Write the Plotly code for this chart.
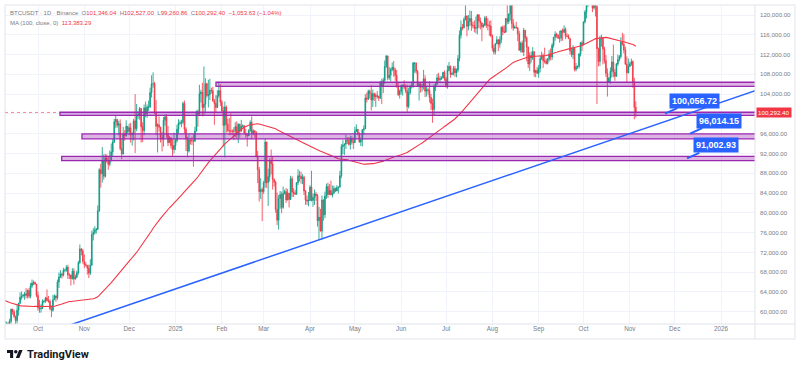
import pandas as pd
import plotly.graph_objects as go

# ---------------- data (prices in thousands of USDT) ----------------
# 100 daily closes before the visible window (2024-05-29 .. 2024-09-05), used to warm up the MA(100)
PRE_CLOSES = [
    67.6, 68.4, 67.5,
    67.7, 67.8, 68.8, 70.6, 71.1, 70.8, 69.4, 69.3, 69.6, 69.5, 67.3, 68.2, 66.8, 66.0, 66.2,
    66.7, 66.5, 65.2, 64.9, 64.8, 64.1, 64.3, 63.2, 60.3, 61.8, 60.9, 61.6, 60.3, 60.9, 62.7,
    62.9, 62.1, 60.2, 57.0, 56.7, 58.2, 55.9, 56.7, 58.0, 57.7, 57.3, 57.9, 59.2, 60.8, 64.7,
    65.0, 64.1, 63.9, 66.7, 67.2, 68.2, 67.6, 65.9, 65.4, 65.8, 67.9, 67.8, 68.3, 66.8, 66.2, 64.6,
    65.4, 61.5, 60.7, 58.1, 54.0, 56.0, 55.1, 61.7, 60.8, 60.9, 58.7, 59.4, 60.6, 58.7, 57.5,
    58.9, 59.5, 58.4, 59.5, 59.0, 61.2, 60.4, 64.0, 64.2, 64.2, 62.9, 59.4, 59.0, 59.4, 59.1, 58.9,
    57.3, 59.1, 57.5, 58.0, 56.2,
]

# daily candles (open, high, low, close)
SEP24 = [  # from 2024-09-06
    (56.2, 56.9, 52.6, 53.9), (53.9, 54.9, 53.7, 54.2), (54.2, 55.3, 53.6, 54.9), (54.9, 58.1, 54.6, 57.0),
    (57.0, 58.0, 56.4, 57.6), (57.6, 57.9, 55.5, 57.3), (57.3, 58.6, 57.3, 58.1), (58.1, 60.6, 57.6, 60.5),
    (60.5, 60.6, 59.4, 60.0), (60.0, 60.4, 58.7, 59.1), (59.1, 59.2, 57.5, 58.2), (58.2, 61.3, 57.6, 60.3),
    (60.3, 61.8, 59.2, 61.7), (61.7, 63.9, 61.6, 62.9), (62.9, 64.1, 62.4, 63.2), (63.2, 63.6, 62.8, 63.3),
    (63.3, 64.0, 62.4, 63.6), (63.6, 64.8, 62.7, 63.3), (63.3, 64.5, 62.7, 64.3), (64.3, 64.8, 62.7, 63.1),
    (63.1, 65.8, 62.7, 65.2), (65.2, 66.5, 64.8, 65.8), (65.8, 66.3, 65.4, 65.9), (65.9, 66.1, 65.4, 65.6),
    (65.6, 65.6, 62.9, 63.3),
]
OCT24 = [
    (63.3, 64.1, 60.2, 60.8), (60.8, 62.4, 59.8, 60.6), (60.6, 61.5, 59.8, 60.7), (60.7, 62.5, 60.5, 62.1),
    (62.1, 62.4, 61.7, 62.1), (62.1, 63.0, 61.8, 62.8), (62.8, 64.5, 62.1, 62.2), (62.2, 63.2, 61.8, 62.1),
    (62.1, 62.5, 60.3, 60.6), (60.6, 61.3, 58.9, 60.3), (60.3, 63.4, 60.0, 62.4), (62.4, 63.5, 62.4, 63.2),
    (63.2, 63.3, 62.0, 62.8), (62.8, 66.5, 62.4, 66.0), (66.0, 67.9, 64.8, 67.0), (67.0, 68.4, 66.8, 67.6),
    (67.6, 67.9, 66.7, 67.4), (67.4, 68.9, 67.1, 68.4), (68.4, 68.7, 68.0, 68.4), (68.4, 69.4, 68.1, 69.0),
    (69.0, 69.5, 66.6, 67.4), (67.4, 67.8, 66.6, 67.4), (67.4, 67.5, 65.3, 66.7), (66.7, 68.8, 66.5, 68.2),
    (68.2, 68.8, 65.5, 66.6), (66.6, 67.5, 66.5, 67.0), (67.0, 68.3, 66.8, 67.9), (67.9, 70.3, 67.5, 69.9),
    (69.9, 73.6, 69.7, 72.7), (72.7, 72.9, 71.4, 72.3), (72.3, 72.7, 69.7, 70.2),
]
NOV24 = [
    (70.2, 71.6, 68.8, 69.5), (69.5, 70.0, 69.1, 69.4), (69.4, 69.4, 67.5, 68.8), (68.8, 69.5, 66.8, 67.8),
    (67.8, 70.6, 67.4, 69.4), (69.4, 76.4, 69.3, 75.6), (75.6, 76.9, 74.4, 76.0), (76.0, 77.3, 75.6, 76.5),
    (76.5, 76.9, 75.8, 76.7), (76.7, 81.5, 76.5, 80.4), (80.4, 89.0, 80.2, 88.7), (88.7, 89.9, 85.1, 87.9),
    (87.9, 93.3, 86.1, 90.5), (90.5, 91.8, 86.7, 87.4), (87.4, 91.9, 87.1, 91.1), (91.1, 91.8, 90.1, 90.6),
    (90.6, 91.5, 88.7, 89.8), (89.8, 92.6, 89.4, 90.5), (90.5, 94.0, 90.4, 92.3), (92.3, 94.9, 91.5, 94.3),
    (94.3, 99.0, 94.1, 98.4), (98.4, 99.8, 97.2, 98.9), (98.9, 98.9, 97.2, 97.7), (97.7, 98.6, 95.7, 98.0),
    (98.0, 98.9, 92.6, 93.0), (93.0, 94.9, 90.8, 91.9), (91.9, 97.4, 91.8, 95.9), (95.9, 96.7, 94.6, 95.6),
    (95.6, 98.7, 95.4, 97.5), (97.5, 97.5, 96.0, 96.4),
]
DEC24 = [
    (96.4, 98.0, 95.7, 97.2), (97.2, 98.2, 94.2, 95.8), (95.8, 96.3, 93.6, 96.0), (96.0, 99.0, 94.6, 98.6),
    (98.6, 104.0, 92.1, 97.0), (97.0, 102.0, 96.5, 99.8), (99.8, 100.5, 99.0, 99.8), (99.8, 101.4, 98.8, 101.1),
    (101.1, 101.2, 94.2, 97.4), (97.4, 98.3, 94.3, 96.6), (96.6, 101.9, 95.7, 101.2), (101.2, 102.5, 99.3, 100.0),
    (100.0, 101.9, 99.2, 101.4), (101.4, 102.7, 100.6, 101.4), (101.4, 105.3, 101.2, 104.3), (104.3, 107.8, 103.3, 106.1),
    (106.1, 108.4, 105.3, 106.1), (106.1, 106.5, 100.0, 100.2), (100.2, 102.8, 95.7, 97.5), (97.5, 98.1, 92.2, 97.8),
    (97.8, 99.5, 96.4, 97.3), (97.3, 97.4, 94.2, 95.2), (95.2, 96.4, 92.4, 94.9), (94.9, 99.4, 93.4, 98.7),
    (98.7, 99.9, 97.6, 99.4), (99.4, 99.9, 95.2, 95.8), (95.8, 97.5, 93.5, 94.2), (94.2, 95.5, 94.1, 95.2),
    (95.2, 95.2, 93.0, 93.6), (93.6, 94.9, 91.3, 92.8), (92.8, 96.2, 92.0, 93.6),
]
JAN25 = [
    (93.6, 95.0, 92.7, 94.6), (94.6, 97.8, 94.2, 96.9), (96.9, 98.9, 96.0, 98.1), (98.1, 98.7, 97.8, 98.2),
    (98.2, 98.8, 97.3, 98.3), (98.3, 102.5, 97.9, 102.1), (102.1, 102.7, 96.1, 96.9), (96.9, 97.3, 92.5, 95.0),
    (95.0, 95.4, 91.2, 92.5), (92.5, 95.8, 92.2, 94.7), (94.7, 95.0, 93.8, 94.6), (94.6, 95.4, 93.7, 94.5),
    (94.5, 95.9, 89.3, 94.5), (94.5, 97.4, 94.3, 96.5), (96.5, 100.7, 96.5, 100.5), (100.5, 100.9, 97.4, 99.9),
    (99.9, 105.9, 99.9, 104.1), (104.1, 104.9, 102.3, 104.4), (104.4, 106.3, 99.5, 101.3), (101.3, 109.6, 99.6, 102.0),
    (102.0, 107.2, 100.1, 106.1), (106.1, 106.3, 103.3, 103.7), (103.7, 106.9, 101.3, 103.9), (103.9, 107.1, 102.8, 104.8),
    (104.8, 105.3, 104.1, 104.7), (104.7, 105.5, 102.5, 102.6), (102.6, 103.0, 97.8, 102.1), (102.1, 103.8, 100.3, 101.3),
    (101.3, 104.8, 101.3, 103.7), (103.7, 106.5, 103.3, 104.7), (104.7, 106.0, 101.6, 102.4),
]
FEB25 = [
    (102.4, 102.8, 100.3, 100.6), (100.6, 101.5, 93.4, 97.7), (97.7, 102.5, 91.2, 101.4), (101.4, 101.7, 96.2, 97.9),
    (97.9, 99.0, 96.3, 96.6), (96.6, 99.2, 95.7, 96.6), (96.6, 100.1, 95.7, 96.5), (96.5, 96.9, 95.7, 96.5),
    (96.5, 97.3, 94.7, 96.5), (96.5, 98.3, 95.3, 97.4), (97.4, 98.5, 94.9, 95.8), (95.8, 98.1, 94.1, 97.9),
    (97.9, 98.0, 95.2, 96.6), (96.6, 98.8, 96.3, 97.5), (97.5, 97.9, 97.2, 97.6), (97.6, 97.7, 96.0, 96.1),
    (96.1, 97.0, 95.2, 95.8), (95.8, 96.0, 93.4, 95.6), (95.6, 96.9, 95.5, 96.6), (96.6, 98.7, 96.4, 98.3),
    (98.3, 99.5, 94.9, 96.1), (96.1, 96.9, 95.7, 96.6), (96.6, 96.7, 95.2, 96.3), (96.3, 96.5, 91.2, 91.4),
    (91.4, 92.5, 86.0, 88.7), (88.7, 89.3, 82.3, 84.3), (84.3, 87.0, 82.8, 84.7), (84.7, 85.1, 78.3, 84.3),
]
MAR25 = [
    (84.3, 86.5, 83.8, 86.1), (86.1, 95.0, 85.1, 94.3), (94.3, 94.4, 85.0, 86.1), (86.1, 88.9, 81.4, 87.3),
    (87.3, 91.0, 86.3, 90.6), (90.6, 92.8, 87.8, 89.9), (89.9, 91.3, 84.7, 86.8), (86.8, 86.9, 85.3, 86.2),
    (86.2, 86.5, 80.0, 80.7), (80.7, 84.1, 77.5, 78.5), (78.5, 83.6, 76.6, 82.9), (82.9, 84.4, 80.8, 83.7),
    (83.7, 84.3, 79.9, 81.1), (81.1, 85.3, 80.8, 83.9), (83.9, 84.7, 83.7, 84.3), (84.3, 85.0, 82.0, 82.6),
    (82.6, 84.8, 82.5, 84.0), (84.0, 84.0, 81.1, 82.7), (82.7, 87.5, 82.6, 86.9), (86.9, 87.4, 83.2, 84.2),
    (84.2, 85.0, 83.2, 84.0), (84.0, 84.6, 83.6, 83.8), (83.8, 86.2, 83.6, 86.1), (86.1, 88.8, 85.6, 87.5),
    (87.5, 88.5, 86.3, 87.4), (87.4, 88.3, 85.9, 86.9), (86.9, 87.8, 85.8, 87.2), (87.2, 87.5, 83.6, 84.4),
    (84.4, 84.6, 81.6, 82.6), (82.6, 83.5, 81.6, 82.4), (82.4, 84.2, 81.3, 82.5),
]
APR25 = [
    (82.5, 85.6, 82.4, 85.2), (85.2, 88.5, 82.3, 82.5), (82.5, 83.9, 81.2, 83.1), (83.1, 84.7, 81.6, 83.8),
    (83.8, 84.2, 82.4, 83.5), (83.5, 83.8, 77.2, 78.4), (78.4, 81.2, 74.5, 79.1), (79.1, 80.8, 76.2, 76.3),
    (76.3, 83.5, 74.6, 82.6), (82.6, 82.7, 78.4, 79.6), (79.6, 84.3, 78.9, 83.4), (83.4, 85.9, 82.8, 85.3),
    (85.3, 86.1, 83.0, 83.7), (83.7, 85.8, 83.7, 84.5), (84.5, 86.5, 83.6, 83.6), (83.6, 85.5, 83.1, 84.0),
    (84.0, 85.5, 83.8, 84.9), (84.9, 85.1, 84.2, 84.4), (84.4, 85.6, 84.4, 85.1), (85.1, 85.3, 83.9, 85.2),
    (85.2, 88.5, 85.1, 87.5), (87.5, 93.9, 87.0, 93.4), (93.4, 94.7, 91.9, 93.7), (93.7, 94.0, 91.7, 93.9),
    (93.9, 95.8, 92.9, 94.7), (94.7, 95.3, 93.9, 94.6), (94.6, 95.3, 93.6, 93.8), (93.8, 95.6, 92.8, 95.0),
    (95.0, 95.5, 93.8, 94.3), (94.3, 95.2, 92.9, 94.2),
]
MAY25 = [
    (94.2, 97.4, 94.1, 96.5), (96.5, 97.9, 96.3, 96.9), (96.9, 96.9, 95.8, 95.9), (95.9, 96.3, 94.2, 94.3),
    (94.3, 95.2, 93.5, 94.7), (94.7, 96.9, 93.4, 96.8), (96.8, 97.7, 95.8, 97.0), (97.0, 104.0, 96.9, 103.2),
    (103.2, 104.3, 102.3, 103.0), (103.0, 104.9, 102.8, 104.6), (104.6, 104.9, 103.1, 104.1), (104.1, 105.8, 100.7, 102.8),
    (102.8, 104.9, 101.4, 104.1), (104.1, 104.3, 102.6, 103.5), (103.5, 104.2, 101.4, 103.7), (103.7, 104.6, 103.1, 103.5),
    (103.5, 103.7, 102.6, 103.2), (103.2, 106.7, 103.0, 106.4), (106.4, 107.1, 102.0, 105.6), (105.6, 107.3, 104.2, 106.8),
    (106.8, 110.8, 106.1, 109.6), (109.6, 111.9, 109.3, 111.7), (111.7, 111.8, 106.8, 107.3), (107.3, 109.5, 106.9, 107.8),
    (107.8, 109.3, 106.6, 109.0), (109.0, 110.4, 108.6, 109.4), (109.4, 110.7, 107.5, 108.9), (108.9, 109.3, 106.7, 107.8),
    (107.8, 108.9, 105.3, 105.6), (105.6, 106.3, 103.6, 103.9), (103.9, 104.9, 103.1, 104.6),
]
JUN25 = [
    (104.6, 105.9, 103.9, 105.7), (105.7, 105.9, 103.7, 105.8), (105.8, 106.8, 105.0, 105.4), (105.4, 106.0, 104.2, 104.7),
    (104.7, 105.9, 100.4, 101.5), (101.5, 105.3, 101.1, 104.3), (104.3, 105.9, 103.9, 105.6), (105.6, 106.5, 105.1, 105.7),
    (105.7, 110.5, 105.3, 110.3), (110.3, 110.4, 108.3, 110.3), (110.3, 110.4, 108.1, 108.6), (108.6, 108.9, 105.7, 105.7),
    (105.7, 106.2, 102.7, 106.1), (106.1, 106.2, 104.3, 105.4), (105.4, 106.1, 104.5, 105.6), (105.6, 108.9, 104.9, 107.1),
    (107.1, 107.8, 103.4, 104.6), (104.6, 105.5, 103.5, 104.9), (104.9, 105.3, 103.9, 104.7), (104.7, 106.6, 102.3, 103.3),
    (103.3, 104.0, 100.8, 102.1), (102.1, 103.1, 98.2, 100.9), (100.9, 106.0, 99.6, 105.4), (105.4, 106.3, 104.6, 106.0),
    (106.0, 108.1, 105.9, 107.3), (107.3, 108.3, 106.6, 106.9), (106.9, 107.7, 106.4, 107.1), (107.1, 107.6, 106.9, 107.3),
    (107.3, 108.5, 107.2, 108.4), (108.4, 108.8, 106.7, 107.1),
]
JUL25 = [
    (107.1, 107.5, 105.3, 105.7), (105.7, 109.8, 105.1, 108.8), (108.8, 110.5, 108.6, 109.6), (109.6, 109.8, 107.3, 108.0),
    (108.0, 108.4, 107.8, 108.2), (108.2, 109.7, 107.8, 109.2), (109.2, 109.7, 107.5, 108.3), (108.3, 109.2, 107.4, 108.9),
    (108.9, 111.9, 108.4, 111.2), (111.2, 116.9, 110.6, 115.9), (115.9, 118.9, 115.2, 117.5), (117.5, 118.2, 116.9, 117.4),
    (117.4, 119.5, 117.3, 119.1), (119.1, 123.2, 118.9, 119.8), (119.8, 119.9, 115.7, 117.7), (117.7, 120.0, 116.9, 118.7),
    (118.7, 120.9, 117.8, 119.3), (119.3, 120.8, 116.8, 117.9), (117.9, 118.6, 117.3, 117.9), (117.9, 118.9, 116.5, 117.3),
    (117.3, 119.7, 116.3, 117.4), (117.4, 120.2, 116.1, 120.0), (120.0, 120.2, 117.3, 118.8), (118.8, 119.5, 117.1, 118.4),
    (118.4, 118.5, 114.7, 117.6), (117.6, 118.3, 117.4, 117.9), (117.9, 119.8, 117.8, 119.4), (119.4, 119.8, 117.4, 118.0),
    (118.0, 119.3, 116.9, 117.9), (117.9, 118.8, 115.8, 117.8), (117.8, 118.9, 115.5, 115.8),
]
AUG25 = [
    (115.8, 116.1, 112.7, 113.3), (113.3, 114.0, 112.0, 112.5), (112.5, 114.3, 112.0, 114.2), (114.2, 115.7, 114.1, 115.0),
    (115.0, 115.1, 112.7, 114.1), (114.1, 115.7, 113.4, 115.0), (115.0, 117.7, 114.3, 117.5), (117.5, 117.9, 115.9, 116.6),
    (116.6, 117.9, 116.3, 116.5), (116.5, 119.3, 116.5, 119.3), (119.3, 122.3, 118.1, 118.7), (118.7, 120.3, 118.2, 120.2),
    (120.2, 123.7, 118.9, 123.3), (123.3, 124.5, 117.2, 118.3), (118.3, 119.2, 116.8, 117.4), (117.4, 117.9, 117.2, 117.5),
    (117.5, 118.6, 117.3, 117.4), (117.4, 117.5, 114.7, 116.2), (116.2, 116.8, 112.7, 112.9), (112.9, 114.6, 112.4, 114.3),
    (114.3, 114.8, 112.4, 112.5), (112.5, 117.4, 111.7, 116.9), (116.9, 117.0, 114.6, 115.4), (115.4, 115.7, 110.6, 113.5),
    (113.5, 113.6, 109.3, 110.1), (110.1, 112.4, 108.7, 111.8), (111.8, 112.6, 110.4, 111.3), (111.3, 113.5, 110.9, 112.6),
    (112.6, 112.6, 107.5, 108.4), (108.4, 108.9, 107.4, 108.8), (108.8, 109.5, 108.1, 108.2),
]
SEP25 = [
    (108.2, 109.9, 107.3, 109.2), (109.2, 111.8, 108.4, 111.2), (111.2, 112.6, 110.9, 111.7), (111.7, 112.2, 109.3, 110.7),
    (110.7, 113.4, 110.2, 110.7), (110.7, 111.2, 110.0, 110.2), (110.2, 111.3, 110.0, 111.1), (111.1, 112.9, 110.6, 112.1),
    (112.1, 113.2, 110.8, 111.5), (111.5, 114.3, 110.9, 113.9), (113.9, 115.5, 113.4, 115.5), (115.5, 116.7, 114.8, 116.1),
    (116.1, 116.4, 115.4, 115.9), (115.9, 116.1, 115.2, 115.3), (115.3, 116.8, 114.4, 115.3), (115.3, 117.0, 114.7, 116.8),
    (116.8, 117.3, 114.8, 116.5), (116.5, 117.9, 116.3, 117.1), (117.1, 117.5, 115.1, 115.7), (115.7, 116.3, 115.5, 115.7),
    (115.7, 116.1, 115.2, 115.2), (115.2, 115.4, 112.0, 112.7), (112.7, 113.4, 111.5, 112.0), (112.0, 113.9, 111.1, 113.3),
    (113.3, 113.5, 108.6, 109.0), (109.0, 110.3, 108.6, 109.6), (109.6, 109.8, 109.1, 109.6), (109.6, 112.3, 109.2, 112.1),
    (112.1, 114.5, 111.6, 114.4), (114.4, 114.8, 112.7, 114.0),
]
OCT25 = [
    (114.0, 118.7, 113.9, 118.6), (118.6, 121.0, 118.3, 120.6), (120.6, 123.9, 119.3, 122.2), (122.2, 122.9, 121.6, 122.4),
    (122.4, 125.7, 122.1, 123.5), (123.5, 126.2, 123.1, 124.7), (124.7, 125.1, 120.6, 121.4), (121.4, 124.2, 121.1, 123.3),
    (123.3, 123.8, 119.7, 121.7), (121.7, 122.6, 102.0, 113.2), (113.2, 113.4, 109.6, 110.6), (110.6, 115.8, 109.7, 115.2),
    (115.2, 116.0, 113.6, 115.3), (115.3, 115.4, 110.0, 113.1), (113.1, 113.6, 110.2, 110.8), (110.8, 111.9, 107.5, 108.2),
    (108.2, 109.2, 103.5, 106.4), (106.4, 107.5, 106.3, 107.2), (107.2, 109.4, 106.1, 108.6), (108.6, 111.7, 107.4, 110.5),
    (110.5, 114.0, 107.4, 108.4), (108.4, 109.1, 106.7, 107.6), (107.6, 110.3, 107.5, 110.1), (110.1, 112.0, 109.7, 111.0),
    (111.0, 111.9, 110.6, 111.6), (111.6, 115.5, 111.2, 114.5), (114.5, 116.4, 113.8, 114.1), (114.1, 116.1, 112.2, 112.9),
    (112.9, 113.6, 109.9, 110.1), (110.1, 111.6, 106.3, 108.3), (108.3, 111.2, 108.2, 109.6),
]
NOV25 = [
    (109.6, 110.5, 109.5, 110.1), (110.1, 111.2, 109.7, 110.6), (110.6, 110.8, 105.3, 106.5),
    (106.5, 107.3, 98.9, 101.34604), (101.34604, 102.527, 99.26086, 100.2924),
]

MONTH_STARTS = ["2024-09-06", "2024-10-01", "2024-11-01", "2024-12-01", "2025-01-01", "2025-02-01",
                "2025-03-01", "2025-04-01", "2025-05-01", "2025-06-01", "2025-07-01", "2025-08-01",
                "2025-09-01", "2025-10-01", "2025-11-01"]
MONTH_ROWS = [SEP24, OCT24, NOV24, DEC24, JAN25, FEB25, MAR25, APR25, MAY25, JUN25, JUL25, AUG25,
              SEP25, OCT25, NOV25]

MA_LENGTH = 100
LEGEND_SYMBOL = "BTCUSDT · 1D · Binance"
LEGEND_OHLC = [101346.04, 102527.00, 99260.86, 100292.40]
LEGEND_CHANGE = -1053.63
LEGEND_CHANGE_PCT = -1.04
LEGEND_MA = 113383.29
LAST_PRICE = 100292.40

# horizontal zones drawn on the chart (low, high, start time)
ZONE_LOW = [105580, 99720, 94950, 90570]
ZONE_HIGH = [106400, 100330, 95950, 91430]
ZONE_START = ["2025-01-28 02:00", "2024-10-15 17:00", "2024-10-30 10:00", "2024-10-16 20:00"]

# rising trend line anchors
TREND_TIMES = ["2024-10-20", "2026-02-10"]
TREND_PRICES = [57060, 106476]

# price callouts
CALLOUT_PRICES = [100056.72, 96014.15, 91002.93]
CALLOUT_TIMES = ["2025-11-24 13:00", "2025-12-11 06:30", "2025-12-09 06:00"]

Y_TICKS = list(range(60000, 120001, 4000))
Y_HIDDEN = [100000]  # label covered by the last-price tag
X_TICK_DATES = ["2024-10-01", "2024-11-01", "2024-12-01", "2025-01-01", "2025-02-01", "2025-03-01",
                "2025-04-01", "2025-05-01", "2025-06-01", "2025-07-01", "2025-08-01", "2025-09-01",
                "2025-10-01", "2025-11-01", "2025-12-01", "2026-01-01"]
X_TICK_LABELS = ["Oct", "Nov", "Dec", "2025", "Feb", "Mar", "Apr", "May", "Jun", "Jul", "Aug", "Sep",
                 "Oct", "Nov", "Dec", "2026"]

# ---------------- build ----------------
dates, o, h, l, c = [], [], [], [], []
for start, rows in zip(MONTH_STARTS, MONTH_ROWS):
    ds = pd.date_range(start, periods=len(rows), freq="D")
    for d, (oo, hh, ll, cc) in zip(ds, rows):
        dates.append(d)
        o.append(oo * 1000); h.append(hh * 1000); l.append(ll * 1000); c.append(cc * 1000)

all_close = pd.Series([v * 1000 for v in PRE_CLOSES] + c)
ma = all_close.rolling(MA_LENGTH).mean().iloc[len(PRE_CLOSES):].tolist()

GREEN = "#089981"
RED = "#f23645"
BLUE = "#2962ff"
PURPLE = "#9c27b0"
GREY = "#787b86"
FONT = "Liberation Sans"

# plot area in pixels
PL, PT, PW, PH = 5, 5, 750, 319


def pxx(x):
    return (x - PL) / PW


def pxy(y):
    return (PT + PH - y) / PH


fig = go.Figure()
fig.add_trace(go.Candlestick(
    x=dates, open=o, high=h, low=l, close=c,
    increasing=dict(line=dict(color=GREEN, width=0.8), fillcolor=GREEN),
    decreasing=dict(line=dict(color=RED, width=0.8), fillcolor=RED),
    whiskerwidth=0, showlegend=False, hoverinfo="skip",
))
fig.add_trace(go.Scatter(x=dates, y=ma, mode="lines", line=dict(color=RED, width=1.1),
                         showlegend=False, hoverinfo="skip"))

shapes = []
# last price dotted line
shapes.append(dict(type="line", xref="paper", yref="y", x0=0, x1=1, y0=LAST_PRICE, y1=LAST_PRICE,
                   line=dict(color="rgba(242,54,69,0.6)", width=1, dash="dot"), layer="below"))
# zones
for lo, hi, st in zip(ZONE_LOW, ZONE_HIGH, ZONE_START):
    shapes.append(dict(type="rect", xref="x", yref="y", x0=st, x1="2026-06-01", y0=lo, y1=hi,
                       line=dict(color=PURPLE, width=1.3), fillcolor="rgba(156,39,176,0.35)", layer="above"))
# trend line
shapes.append(dict(type="line", xref="x", yref="y", x0=TREND_TIMES[0], x1=TREND_TIMES[1],
                   y0=TREND_PRICES[0], y1=TREND_PRICES[1], line=dict(color=BLUE, width=1.5), layer="above"))
# frame lines
FRAME = "#e0e3eb"
shapes.append(dict(type="rect", xref="paper", yref="paper", x0=pxx(5), x1=pxx(795), y0=pxy(339), y1=pxy(5),
                   line=dict(color=FRAME, width=1)))
shapes.append(dict(type="line", xref="paper", yref="paper", x0=pxx(755), x1=pxx(755), y0=pxy(339), y1=pxy(5),
                   line=dict(color=FRAME, width=1)))
shapes.append(dict(type="line", xref="paper", yref="paper", x0=pxx(5), x1=pxx(795), y0=pxy(324), y1=pxy(324),
                   line=dict(color=FRAME, width=1)))

# TradingView logo
LX, LY, S = 7, 348.2, 0.44


def lp(u, v):
    return f"{pxx(LX + u * S):.5f},{pxy(LY + v * S):.5f}"


shapes.append(dict(type="path", xref="paper", yref="paper",
                   path=f"M{lp(0,4)} L{lp(14,4)} L{lp(14,22)} L{lp(7,22)} L{lp(7,11)} L{lp(0,11)} Z",
                   fillcolor="#131722", line=dict(width=0)))
shapes.append(dict(type="path", xref="paper", yref="paper",
                   path=f"M{lp(20,22)} L{lp(27.5,4)} L{lp(35.5,4)} L{lp(28,22)} Z",
                   fillcolor="#131722", line=dict(width=0)))
shapes.append(dict(type="circle", xref="paper", yref="paper",
                   x0=pxx(LX + 16 * S), x1=pxx(LX + 24 * S), y0=pxy(LY + 12 * S), y1=pxy(LY + 4 * S),
                   fillcolor="#131722", line=dict(width=0)))

annotations = []
# callouts
for price, t in zip(CALLOUT_PRICES, CALLOUT_TIMES):
    annotations.append(dict(x=t, y=price, xref="x", yref="y", text=f"<b>{price:,.2f}</b>",
                            showarrow=True, arrowhead=0, arrowwidth=2, arrowcolor=BLUE,
                            ax=29, ay=-13, axref="pixel", ayref="pixel",
                            bgcolor=BLUE, borderpad=2, font=dict(color="white", size=9, family=FONT)))
# last price tag on the axis
annotations.append(dict(x=1, y=LAST_PRICE, xref="paper", yref="y", xanchor="left", yanchor="middle",
                        text=f"{LAST_PRICE:,.2f}", showarrow=False, bgcolor=RED, borderpad=1, xshift=1,
                        font=dict(color="white", size=6.2, family=FONT)))


def g(s):
    return f'<span style="color:{GREY}">{s}</span>'


def r(s):
    return f'<span style="color:{RED}">{s}</span>'


sp = "&nbsp;&nbsp;"
line1 = (g(LEGEND_SYMBOL) + sp + g("O") + r(f"{LEGEND_OHLC[0]:,.2f}") + sp + g("H") + r(f"{LEGEND_OHLC[1]:,.2f}")
         + sp + g("L") + r(f"{LEGEND_OHLC[2]:,.2f}") + sp + g("C") + r(f"{LEGEND_OHLC[3]:,.2f}") + sp
         + r(f"{LEGEND_CHANGE:,.2f} ({LEGEND_CHANGE_PCT:.2f}%)".replace("-", "−")))
line2 = g(f"MA ({MA_LENGTH}, close, 0)") + sp + r(f"{LEGEND_MA:,.2f}")
annotations.append(dict(x=pxx(8), y=pxy(12.7), xref="paper", yref="paper", xanchor="left", yanchor="middle",
                        text=line1, showarrow=False, font=dict(size=6.0, family=FONT)))
annotations.append(dict(x=pxx(8), y=pxy(22.5), xref="paper", yref="paper", xanchor="left", yanchor="middle",
                        text=line2, showarrow=False, font=dict(size=6.0, family=FONT)))
annotations.append(dict(x=pxx(25), y=pxy(354), xref="paper", yref="paper", xanchor="left", yanchor="middle",
                        text="<b>TradingView</b>", showarrow=False,
                        font=dict(size=11, family="Roboto", color="#131722")))

fig.update_layout(
    width=800, height=369,
    margin=dict(l=PL, r=800 - PL - PW, t=PT, b=369 - PT - PH),
    paper_bgcolor="white", plot_bgcolor="white",
    shapes=shapes, annotations=annotations,
    xaxis=dict(type="date", range=["2024-09-08 22:00", "2026-01-23 18:00"],
               tickvals=X_TICK_DATES, ticktext=X_TICK_LABELS, showgrid=True, gridcolor="#f0f3fa",
               zeroline=False, showline=False, ticks="", rangeslider=dict(visible=False),
               tickfont=dict(size=6.3, color=GREY, family=FONT)),
    yaxis=dict(side="right", range=[57513, 122022], tickvals=Y_TICKS,
               ticktext=["" if v in Y_HIDDEN else f"{v:,.2f}" for v in Y_TICKS],
               showgrid=True, gridcolor="#f0f3fa",
               zeroline=False, showline=False, ticks="", ticklabelstandoff=4,
               tickfont=dict(size=6.1, color=GREY, family=FONT)),
)

fig.write_html("out.html", config={"displayModeBar": False},
               post_script="document.body.style.margin='0px';")
